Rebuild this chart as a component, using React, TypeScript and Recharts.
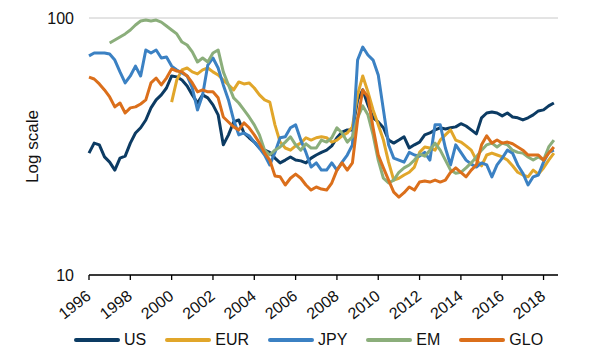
import { LineChart, Line, XAxis, YAxis, CartesianGrid } from "recharts";

// quarterly observations, 1996 Q1 .. mid-2018
const START_YEAR = 1996;
const STEP = 0.25;

const us = [
  29.8, 32.6, 32.1, 28.8, 27.5, 25.6, 28.5, 29.0, 32.6, 35.7,
  37.4, 40.1, 44.7, 48.0, 50.2, 53.4, 59.5, 59.0, 57.4, 54.4,
  50.2, 46.7, 50.2, 48.9, 45.9, 42.0, 32.1, 35.1, 39.4, 40.1,
  35.7, 34.2, 32.9, 31.2, 30.6, 30.0, 28.5, 27.3, 28.0, 28.8,
  28.0, 27.8, 27.3, 28.5, 29.3, 30.0, 30.6, 31.8, 34.2, 36.0,
  36.7, 36.7, 48.0, 52.5, 45.9, 40.9, 39.4, 37.4, 33.5, 32.6,
  33.5, 34.5, 31.2, 32.1, 32.9, 35.1, 35.7, 36.7, 37.4, 37.0,
  37.4, 37.7, 38.8, 38.0, 36.7, 35.4, 40.9, 42.7, 43.1, 42.7,
  41.6, 42.7, 41.2, 40.9, 40.1, 40.9, 42.0, 43.5, 43.9, 45.5,
  46.7,
];

// EUR starts in 2000
const EUR_START = 2000;
const eur = [
  47.1, 57.4, 62.8, 63.9, 61.7, 60.6, 62.8, 63.9, 61.7, 60.0,
  57.4, 54.9, 52.5, 56.4, 55.4, 55.9, 53.4, 50.2, 48.0, 47.1,
  38.4, 32.9, 31.2, 30.6, 31.8, 32.6, 34.2, 33.5, 34.2, 34.5,
  34.2, 32.9, 33.5, 34.8, 35.7, 37.7, 50.2, 59.5, 51.6, 43.9,
  38.4, 33.5, 27.5, 23.4, 23.8, 24.5, 25.1, 26.3, 30.0, 31.5,
  31.2, 30.6, 33.5, 35.1, 36.7, 33.5, 32.9, 31.8, 30.6, 28.0,
  26.6, 29.3, 29.8, 29.3, 28.8, 28.0, 26.6, 25.1, 24.5, 24.1,
  25.6, 24.7, 26.1, 28.0, 29.8,
];

const jpy = [
  71.2, 73.1, 73.1, 73.1, 72.4, 68.6, 61.7, 55.9, 59.5, 65.0,
  59.5, 75.1, 73.1, 75.1, 69.9, 70.5, 65.0, 62.8, 61.1, 59.5,
  53.4, 43.9, 50.2, 65.6, 69.9, 63.9, 54.9, 48.0, 40.1, 35.1,
  35.7, 34.8, 32.9, 31.2, 29.3, 26.8, 30.0, 34.2, 34.5, 37.4,
  38.4, 33.5, 30.0, 26.3, 27.3, 25.6, 25.6, 27.3, 25.6, 27.5,
  29.3, 32.1, 68.6, 77.1, 71.8, 68.6, 60.0, 43.9, 32.1, 28.5,
  28.0, 27.5, 30.0, 29.3, 29.0, 30.0, 28.0, 38.4, 38.4, 31.2,
  26.8, 32.1, 30.0, 28.0, 27.0, 26.3, 27.3, 26.8, 24.1, 26.8,
  28.5, 30.6, 29.8, 26.8, 24.9, 22.4, 24.1, 24.5, 27.5, 30.0,
  30.6,
];

// EM starts in 1997
const EM_START = 1997;
const em = [
  79.9, 82.1, 84.4, 86.7, 89.8, 93.9, 97.3, 98.2, 97.3, 98.2,
  96.4, 93.1, 89.8, 86.7, 80.6, 78.5, 73.8, 67.4, 69.9, 67.4,
  73.1, 75.1, 61.7, 54.9, 48.9, 46.7, 43.9, 41.2, 38.4, 35.1,
  30.6, 29.3, 30.6, 31.5, 32.9, 34.5, 32.1, 30.6, 32.4, 31.2,
  31.2, 33.5, 32.9, 34.2, 37.4, 35.7, 32.9, 34.5, 40.9, 45.5,
  42.0, 35.1, 28.0, 23.8, 22.8, 23.4, 25.1, 26.1, 26.8, 28.0,
  29.6, 29.0, 30.6, 32.6, 30.6, 28.0, 25.6, 24.9, 25.1, 26.1,
  27.3, 28.8, 30.6, 32.1, 32.6, 31.5, 32.6, 32.1, 30.6, 30.0,
  29.8, 28.8, 28.0, 28.8, 28.0, 31.5, 33.5,
];

const glo = [
  58.9, 57.9, 55.4, 52.5, 49.3, 45.1, 46.7, 42.7, 44.7, 45.1,
  46.3, 48.0, 55.9, 58.4, 54.9, 58.4, 63.4, 62.2, 61.7, 59.5,
  55.9, 51.6, 52.5, 51.6, 51.6, 48.9, 41.2, 39.4, 37.7, 36.7,
  39.1, 37.4, 35.1, 32.6, 29.8, 28.0, 24.3, 24.1, 22.4, 23.8,
  24.7, 23.8, 22.4, 21.4, 22.0, 21.6, 21.4, 22.8, 25.6, 27.3,
  25.6, 27.3, 40.1, 52.5, 49.3, 37.4, 29.3, 26.1, 23.4, 21.0,
  20.1, 20.9, 22.0, 21.4, 23.0, 23.2, 23.0, 23.4, 23.0, 23.4,
  25.1, 26.1, 25.1, 24.1, 25.6, 26.8, 32.1, 34.8, 32.6, 33.5,
  32.6, 32.9, 32.4, 31.5, 30.6, 29.3, 29.3, 29.3, 28.0, 29.8,
  31.5,
];

const yearTicks = [1996, 1998, 2000, 2002, 2004, 2006, 2008, 2010, 2012, 2014, 2016, 2018];
const valueTicks = [10, 100];

const series = [
  { key: "US", color: "#0c3b63" },
  { key: "EUR", color: "#e1a62a" },
  { key: "JPY", color: "#3b81c3" },
  { key: "EM", color: "#8bae7b" },
  { key: "GLO", color: "#db6f1b" },
];

const eurOffset = (EUR_START - START_YEAR) / STEP;
const emOffset = (EM_START - START_YEAR) / STEP;

const data = us.map((v, i) => ({
  t: START_YEAR + i * STEP,
  US: v,
  EUR: i >= eurOffset ? eur[i - eurOffset] : null,
  JPY: jpy[i],
  EM: i >= emOffset ? em[i - emOffset] : null,
  GLO: glo[i],
}));

const FONT = '"Liberation Sans", Arial, sans-serif';

function XTick(props: any) {
  const { x, y, payload } = props;
  const ax = x + 3;
  const ay = y + 18;
  return (
    <text
      x={ax}
      y={ay}
      textAnchor="end"
      transform={`rotate(-38, ${ax}, ${ay})`}
      fontSize={16}
      fontFamily={FONT}
      fill="#111"
    >
      {payload.value}
    </text>
  );
}

function YTick(props: any) {
  const { x, y, payload } = props;
  return (
    <text x={x} y={y} dy="0.36em" textAnchor="end" fontSize={16} fontFamily={FONT} fill="#111">
      {payload.value}
    </text>
  );
}

function YLabel(props: any) {
  const { viewBox } = props;
  const cy = viewBox.y + viewBox.height / 2;
  return (
    <text
      x={38}
      y={cy}
      textAnchor="middle"
      transform={`rotate(-90, 38, ${cy})`}
      fontSize={17}
      fontFamily={FONT}
      fill="#111"
    >
      Log scale
    </text>
  );
}

export default function App() {
  return (
    <div style={{ position: "absolute", left: 0, top: 0, width: 600, height: 364, background: "#fff" }}>
      <LineChart width={600} height={364} data={data} margin={{ top: 18, right: 42, bottom: 0, left: 0 }}>
        <CartesianGrid vertical={false} stroke="#c8c8c8" />
        <XAxis
          dataKey="t"
          type="number"
          domain={[1996, 2018.7]}
          ticks={yearTicks}
          height={89}
          tickSize={5}
          tickMargin={0}
          axisLine={{ stroke: "#000", strokeWidth: 1.3 }}
          tickLine={{ stroke: "#000", strokeWidth: 1.3 }}
          tick={<XTick />}
          interval={0}
        />
        <YAxis
          scale="log"
          domain={[10, 100]}
          ticks={valueTicks}
          allowDataOverflow
          width={89}
          axisLine={false}
          tickLine={false}
          tickSize={0}
          tickMargin={15}
          tick={<YTick />}
          label={<YLabel />}
        />
        {series.map((s) => (
          <Line
            key={s.key}
            type="linear"
            dataKey={s.key}
            stroke={s.color}
            strokeWidth={3}
            strokeLinejoin="round"
            dot={false}
            activeDot={false}
            isAnimationActive={false}
          />
        ))}
      </LineChart>
      <div
        style={{
          position: "absolute",
          left: 74,
          top: 330,
          display: "flex",
          alignItems: "center",
          fontFamily: FONT,
          fontSize: 16,
          color: "#111",
          lineHeight: "20px",
        }}
      >
        {series.map((s) => (
          <div key={s.key} style={{ display: "flex", alignItems: "center", marginRight: 19 }}>
            <span
              style={{
                display: "inline-block",
                width: 46,
                height: 4,
                borderRadius: 2,
                background: s.color,
                marginRight: 4,
              }}
            />
            <span>{s.key}</span>
          </div>
        ))}
      </div>
    </div>
  );
}
